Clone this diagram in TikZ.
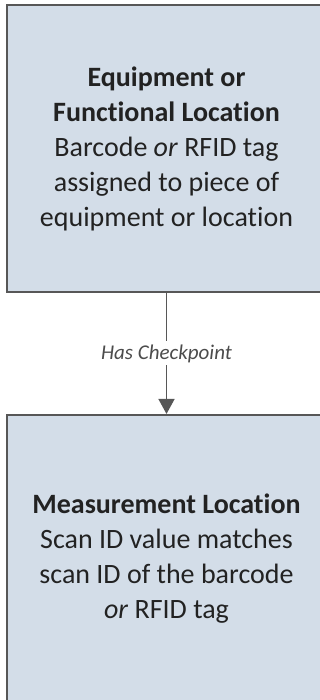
\documentclass[tikz,border=0pt]{standalone}
\usepackage{fontspec}
\setmainfont[Ligatures={NoCommon}]{Carlito}
\usetikzlibrary{arrows.meta,positioning}

\definecolor{boxfill}{HTML}{D3DDE8}
\definecolor{boxline}{HTML}{575757}
\definecolor{inktext}{HTML}{222222}

\begin{document}
\begin{tikzpicture}[x=1pt, y=1pt,
    entity/.style={draw=boxline, line width=1.9pt, fill=boxfill,
      minimum width=319pt, minimum height=287pt, inner sep=0pt,
      text=inktext, font=\fontsize{28}{35}\selectfont, align=center},
    arr/.style={-{Triangle[length=15pt, width=16pt]}, line width=1.5pt, draw=boxline},
    note/.style={font=\fontsize{21}{24}\selectfont\itshape, text=black!70,
      fill=white, inner sep=3pt},
  ]
  \useasboundingbox (0,0) rectangle (320,-700);
  \clip (0,0) rectangle (320,-700);

  % --- equipment / functional location (top) ---
  \node[entity] (equip) at (166.5,-148.5)
    {\textbf{Equipment or}\\ \textbf{Functional Location}\\
     Barcode \textit{or} RFID tag\\ assigned to piece of\\
     equipment or location};

  % --- measurement location (bottom) ---
  \node[entity, below=121pt of equip, minimum height=288pt] (meas)
    {\textbf{Measurement Location}\\ Scan ID value matches\\
     scan ID of the barcode\\ \textit{or} RFID tag};

  % relation between the two
  \draw[arr] (equip.south) -- (meas.north)
    node[note, pos=0.5] {Has Checkpoint};

\end{tikzpicture}
\end{document}
